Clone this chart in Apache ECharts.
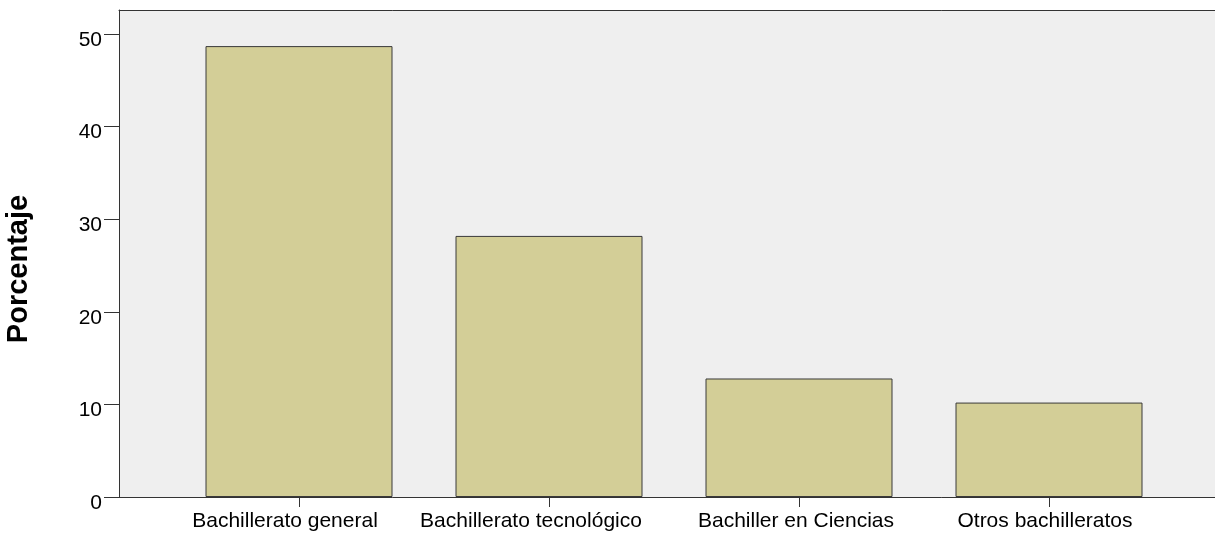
<!DOCTYPE html>
<html>
<head>
<meta charset="utf-8">
<script src="https://cdn.jsdelivr.net/npm/echarts@6/dist/echarts.min.js"></script>
<style>
html,body{margin:0;padding:0;background:#fff;}
#c{width:1215px;height:533px;}
</style>
</head>
<body>
<div id="c"></div>
<script>
const categories = ['Bachillerato general', 'Bachillerato tecnológico', 'Bachiller en Ciencias', 'Otros bachilleratos'];
const percentages = [48.7, 28.2, 12.8, 10.2];
const yTicks = [0, 10, 20, 30, 40, 50];
const yTitle = 'Porcentaje';

// label style: horizontal nudge (px, right padding) of each category label, as in the reference
const labelNudge = [28, 36, 6, 8];

const FONT = "'Liberation Sans', Arial, sans-serif";
const YMAX = 52.6;
const AXIS = '#333';
const chart = echarts.init(document.getElementById('c'), null, {renderer: 'canvas'});
chart.setOption({
  animation: false,
  backgroundColor: '#ffffff',
  grid: [
    {left: 174, right: 41, top: 10, bottom: 36, show: false, outerBoundsMode: 'none', containLabel: false},
    {left: 119, right: 0, top: 10, bottom: 36, show: true, backgroundColor: '#efefef', borderWidth: 0, z: 0, outerBoundsMode: 'none', containLabel: false}
  ],
  xAxis: [
    {
      type: 'category', gridIndex: 0, boundaryGap: true,
      data: categories.map((c, i) => ({value: c, textStyle: {padding: [0, labelNudge[i], 0, 0]}})),
      axisLine: {show: false},
      axisTick: {show: true, alignWithLabel: true, length: 10, lineStyle: {color: AXIS, width: 1}},
      axisLabel: {color: '#000', fontFamily: FONT, fontSize: 21, margin: 14, interval: 0}
    },
    {
      type: 'value', gridIndex: 1, min: 0, max: 1, position: 'bottom',
      axisLine: {show: true, onZero: false, lineStyle: {color: AXIS, width: 1}},
      axisTick: {show: false}, axisLabel: {show: false}, splitLine: {show: false}
    },
    {
      type: 'value', gridIndex: 1, min: 0, max: 1, position: 'top',
      axisLine: {show: true, onZero: false, lineStyle: {color: AXIS, width: 1}},
      axisTick: {show: false}, axisLabel: {show: false}, splitLine: {show: false}
    }
  ],
  yAxis: [
    {
      type: 'value', gridIndex: 0, min: 0, max: YMAX,
      show: false, splitLine: {show: false}
    },
    {
      type: 'value', gridIndex: 1, min: 0, max: YMAX, interval: 10,
      name: yTitle, nameLocation: 'middle', nameGap: 86,
      nameTextStyle: {color: '#000', fontFamily: FONT, fontSize: 29, fontWeight: 'bold', padding: [0, 0, 0, -31]},
      axisLine: {show: true, onZero: false, lineStyle: {color: AXIS, width: 1}},
      axisTick: {show: true, length: 15, lineStyle: {color: AXIS, width: 1}, customValues: yTicks},
      axisLabel: {color: '#000', fontFamily: FONT, fontSize: 21, margin: 17, verticalAlign: 'top', lineHeight: 12, customValues: yTicks},
      splitLine: {show: false}
    }
  ],
  series: [{
    type: 'bar', xAxisIndex: 0, yAxisIndex: 0, data: percentages, barWidth: 187,
    itemStyle: {color: '#d3ce97', borderColor: '#3a3a3a', borderWidth: 1},
    z: 3
  }]
});
</script>
</body>
</html>
